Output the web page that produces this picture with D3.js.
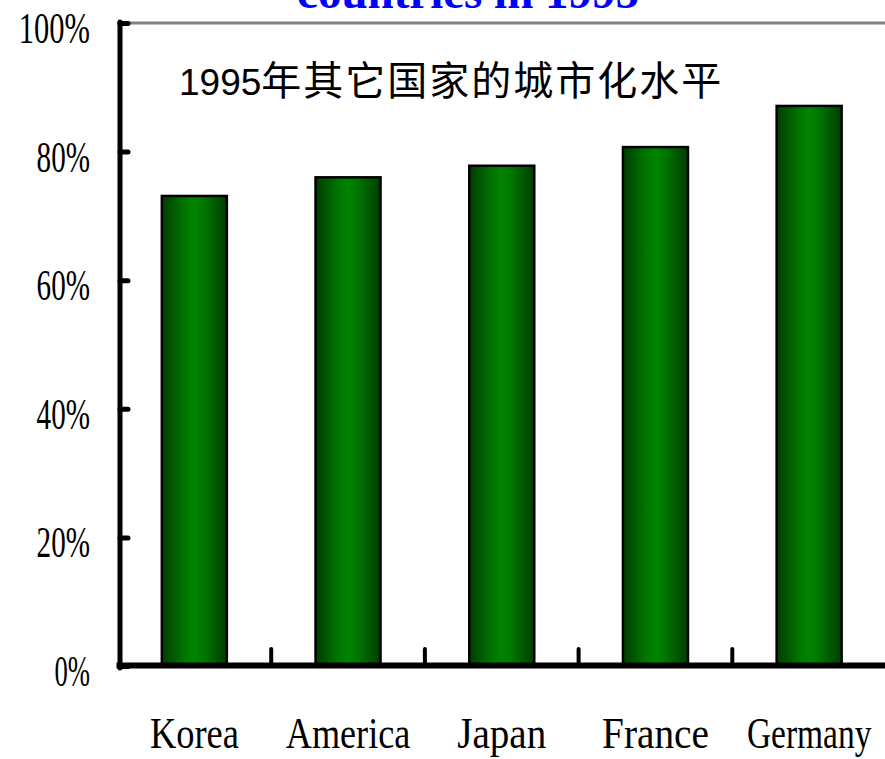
<!DOCTYPE html>
<html>
<head>
<meta charset="utf-8">
<script src="https://cdn.jsdelivr.net/npm/d3@7/dist/d3.min.js"></script>
<style>
  html, body { margin: 0; padding: 0; background: #fff; }
  svg { display: block; }
</style>
</head>
<body>
<svg id="chart" width="885" height="759"></svg>
<script>
// Urbanization level of other countries, 1995
const countries = ["Korea", "America", "Japan", "France", "Germany"];
const urbanRate = [0.731, 0.760, 0.778, 0.807, 0.871];
const yTicks = [0, 0.2, 0.4, 0.6, 0.8, 1.0];
const titleText = "countries in 1995";
const noteYear = "1995";
const noteText = "年其它国家的城市化水平";

const svg = d3.select("#chart");

const x = d3.scaleBand().domain(countries).range([117.5, 886]).paddingInner(0).paddingOuter(0);
const y = d3.scaleLinear().domain([0, 1]).range([666, 23]);
const barFrac = 0.423;
const labelFont = "'Liberation Serif', 'DejaVu Serif', serif";
const charW = 17.8;
const pct = d3.format(".0%");

// Place a text at (px, py) and squeeze it horizontally to a target width
function condensed(sel, px, py, width) {
  sel.each(function (d, i) {
    const node = this;
    const natural = node.getComputedTextLength();
    const w = typeof width === "function" ? width(d, i) : width;
    const sx = natural > 0 ? w / natural : 1;
    const tx = typeof px === "function" ? px(d, i) : px;
    const ty = typeof py === "function" ? py(d, i) : py;
    d3.select(node).attr("transform", `translate(${tx},${ty}) scale(${sx},1)`);
  });
}

// Bar fill: dark edges, bright green centre
const defs = svg.append("defs");
const grad = defs.append("linearGradient").attr("id", "barGrad")
  .attr("x1", "0%").attr("x2", "100%").attr("y1", "0%").attr("y2", "0%");
[[0, "#003c00"], [0.35, "#007600"], [0.5, "#008400"], [0.65, "#007600"], [1, "#003c00"]]
  .forEach(([o, c]) => grad.append("stop").attr("offset", o).attr("stop-color", c));

// Title (only its last line shows at the top edge)
svg.append("text")
  .attr("text-anchor", "middle")
  .attr("font-family", "'Liberation Serif', 'Times New Roman', serif")
  .attr("font-weight", "bold")
  .attr("font-size", 47)
  .attr("fill", "#0000ff")
  .text(titleText)
  .call(condensed, 468, 8, 342);

// 100% gridline
svg.append("line")
  .attr("x1", x.range()[0]).attr("x2", 885)
  .attr("y1", y(1)).attr("y2", y(1))
  .attr("stroke", "#808080").attr("stroke-width", 3);

// Bars
svg.append("g").selectAll("rect")
  .data(countries)
  .join("rect")
  .attr("x", (d) => x(d) + x.bandwidth() * (1 - barFrac) / 2)
  .attr("width", x.bandwidth() * barFrac)
  .attr("y", (d, i) => y(urbanRate[i]))
  .attr("height", (d, i) => y(0) - y(urbanRate[i]))
  .attr("fill", "url(#barGrad)")
  .attr("stroke", "#000")
  .attr("stroke-width", 2.5);

// Y axis: ticks point inward
const yAxis = d3.axisRight(y)
  .tickValues(yTicks)
  .tickSize(8)
  .tickFormat(() => "");
const gy = svg.append("g").attr("transform", `translate(${x.range()[0] + 2.5},0)`).call(yAxis);
gy.select(".domain").remove();
gy.selectAll(".tick line").attr("stroke", "#000").attr("stroke-width", 5).attr("stroke-linecap", "round");
svg.append("line")
  .attr("x1", x.range()[0] + 2.5).attr("x2", x.range()[0] + 2.5)
  .attr("y1", y(1) - 1).attr("y2", y(0) + 2)
  .attr("stroke", "#000").attr("stroke-width", 5).attr("stroke-linecap", "round");

// Y tick labels
svg.append("g").selectAll("text")
  .data(yTicks)
  .join("text")
  .attr("text-anchor", "end")
  .attr("font-family", labelFont)
  .attr("font-size", 45)
  .attr("fill", "#000")
  .text((d) => pct(d))
  .call(condensed, 90, (d) => y(d) + 20, (d) => pct(d).length * charW);

// X axis line and category dividers
svg.append("line")
  .attr("x1", x.range()[0] - 1).attr("x2", 890)
  .attr("y1", y(0) - 0.5).attr("y2", y(0) - 0.5)
  .attr("stroke", "#000").attr("stroke-width", 6);
svg.append("g").selectAll("line")
  .data(countries.slice(1))
  .join("line")
  .attr("x1", (d) => x(d)).attr("x2", (d) => x(d))
  .attr("y1", y(0) - 17).attr("y2", y(0))
  .attr("stroke", "#000").attr("stroke-width", 4).attr("stroke-linecap", "round");

// Category labels
svg.append("g").selectAll("text")
  .data(countries)
  .join("text")
  .attr("text-anchor", "middle")
  .attr("font-family", labelFont)
  .attr("font-size", 44)
  .attr("fill", "#000")
  .text((d) => d)
  .call(condensed, (d) => x(d) + x.bandwidth() / 2, 748, (d) => d.length * charW);

// In-chart caption
const note = svg.append("text")
  .attr("x", 179).attr("y", 95)
  .attr("fill", "#000");
note.append("tspan")
  .attr("font-family", "'Liberation Sans', Arial, sans-serif")
  .attr("font-size", 37)
  .text(noteYear);
note.append("tspan")
  .attr("font-family", "'Noto Sans CJK SC', sans-serif")
  .attr("font-size", 40)
  .attr("letter-spacing", 2)
  .text(noteText);
</script>
</body>
</html>
